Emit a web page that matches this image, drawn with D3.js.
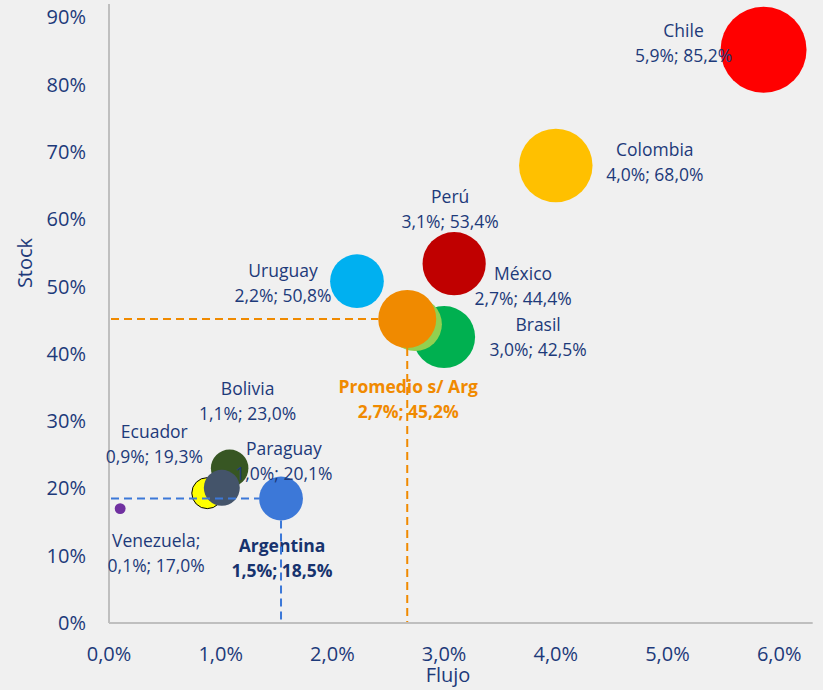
<!DOCTYPE html>
<html><head><meta charset="utf-8">
<script src="https://cdn.jsdelivr.net/npm/d3@7"></script>
<style>
body{margin:0;background:#f0f0f0;}
svg{display:block;font-family:'Open Sans',sans-serif;}
</style>
</head><body>
<svg id="c" width="823" height="690"></svg>
<script>
// ---- data ----
const countries = ["Chile","Colombia","Perú","Uruguay","Brasil","México","Promedio s/ Arg","Bolivia","Ecuador","Paraguay","Venezuela;","Argentina"];
const flujo = [5.86, 4.0, 3.09, 2.22, 3.0, 2.74, 2.67, 1.08, 0.88, 1.01, 0.1, 1.54];   // %
const stock = [85.2, 68.0, 53.4, 50.8, 42.5, 44.4, 45.2, 23.0, 19.3, 20.1, 17.0, 18.5]; // %
const bubbleSize = [100, 73, 54, 39, 52, 39, 45.5, 19, 13, 17.5, 1.6, 26];
const xTicks = [0, 1, 2, 3, 4, 5, 6];
const yTicks = [0, 10, 20, 30, 40, 50, 60, 70, 80, 90];
const highlight = ["Argentina", "Promedio s/ Arg"];

// ---- styles ----
const colors = ["#ff0000","#ffc000","#c00000","#00b0f0","#00b050","#92d050","#f08a00","#375623","#ffff00","#44546a","#7030a0","#3c78d8"];
const labelOffsets = [[-80,-19],[99,-16],[-4,-67],[-74,-10],[94,-12],[108,-50],[1,68],[18,-79],[-53,-61],[62,-39],[36,32],[1,47]];
const navy = "#1d3a7a";

const svg = d3.select("#c");
const x = d3.scaleLinear().domain([0, 6.3]).range([109, 812.7]);
const y = d3.scaleLinear().domain([0, 92]).range([623, 4]);
const r = d3.scaleSqrt().domain([0, 100]).range([0, 43]);
const comma = s => s.replace(".", ",");
const f1 = d3.format(".1f"), f0 = d3.format(".0f");

// axes lines
const axis = svg.append("g").attr("stroke", "#bfbfbf").attr("stroke-width", 2);
axis.append("line").attr("x1", x(0)).attr("x2", x(0)).attr("y1", y(92)).attr("y2", y(0));
axis.append("line").attr("x1", x(0)).attr("x2", x(6.3)).attr("y1", y(0)).attr("y2", y(0));

// tick labels
svg.append("g").selectAll("text").data(yTicks).join("text")
  .attr("x", 86).attr("y", d => y(d)).attr("dy", "0.35em")
  .attr("text-anchor", "end").attr("font-size", 20).attr("fill", navy)
  .text(d => f0(d) + "%");
svg.append("g").selectAll("text").data(xTicks).join("text")
  .attr("x", d => x(d)).attr("y", 654).attr("dy", "0.35em")
  .attr("text-anchor", "middle").attr("font-size", 20).attr("fill", navy)
  .text(d => comma(f1(d)) + "%");

// axis titles
svg.append("text").attr("transform", "translate(25,263) rotate(-90)").attr("dy", "0.35em")
  .attr("text-anchor", "middle").attr("font-size", 20).attr("fill", navy).text("Stock");
svg.append("text").attr("x", 448).attr("y", 675).attr("dy", "0.35em")
  .attr("text-anchor", "middle").attr("font-size", 20).attr("fill", navy).text("Flujo");

const data = countries.map((c, i) => ({name: c, fx: flujo[i], st: stock[i], size: bubbleSize[i], color: colors[i], off: labelOffsets[i]}));

// bubbles
svg.append("g").selectAll("circle").data(data).join("circle")
  .attr("cx", d => x(d.fx)).attr("cy", d => y(d.st)).attr("r", d => r(d.size))
  .attr("fill", d => d.color)
  .attr("stroke", d => d.name === "Ecuador" ? "#000" : "none")
  .attr("stroke-width", 1);

// labels
const lab = svg.append("g").selectAll("g").data(data).join("g")
  .attr("transform", d => `translate(${x(d.fx) + d.off[0]},${y(d.st) + d.off[1]})`)
  .attr("text-anchor", "middle")
  .attr("font-size", 17.5)
  .attr("font-weight", d => highlight.includes(d.name) ? "bold" : "normal")
  .attr("fill", d => d.name === "Promedio s/ Arg" ? "#f08a00" : (d.name === "Argentina" ? "#17336e" : navy));
lab.append("text").attr("dy", "0.35em").text(d => d.name);
lab.append("text").attr("y", 25).attr("dy", "0.35em")
  .text(d => comma(f1(d.fx)) + "%; " + comma(f1(d.st)) + "%");

// reference dashed lines
const refs = data.filter(d => highlight.includes(d.name));
const dl = svg.append("g").attr("fill", "none").attr("stroke-width", 2).attr("stroke-dasharray", "8,5");
refs.forEach(d => {
  const cx = x(d.fx), cy = y(d.st), rr = r(d.size);
  dl.append("line").attr("stroke", d.color)
    .attr("x1", x(0) + 2).attr("x2", cx - rr).attr("y1", cy).attr("y2", cy);
  dl.append("line").attr("stroke", d.color)
    .attr("x1", cx).attr("x2", cx).attr("y1", cy + rr).attr("y2", y(0) - 1);
});
</script>
</body></html>
